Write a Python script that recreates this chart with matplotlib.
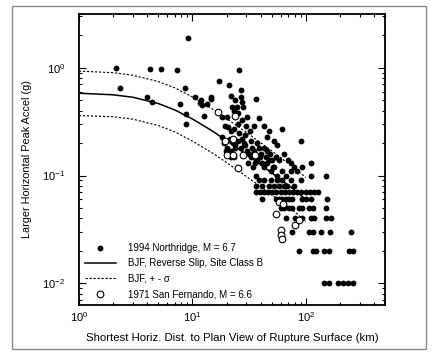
import matplotlib
matplotlib.use("Agg")
import matplotlib.pyplot as plt
from matplotlib.patches import Rectangle
from matplotlib.ticker import LogLocator, NullFormatter

plt.rcParams["font.family"] = ["Liberation Sans", "DejaVu Sans"]

# 1994 Northridge, larger horizontal PGA (g) vs distance (km)
nr_dist = [
    2.1, 2.3, 4.2, 5.3, 7.3, 9.2, 8.6, 4.0, 4.4, 7.7, 8.7, 8.7, 10.6, 11.6, 12.6,
    13.5, 14.6, 14.7, 12.2, 11.8,
    17.3, 21.0, 25.7, 26.6, 27.0, 27.5, 27.9, 24.0, 22.4, 23.2, 25.2, 20.3, 18.3,
    19.3, 20.7, 21.7, 23.2, 25.2, 27.5, 30.5, 30.0, 32.2, 36.1, 34.9, 38.6, 42.8,
    47.4, 45.8, 52.5, 56.1, 62.2, 90.3, 21.7, 24.8,
    18.3, 19.2, 20.3, 21.4, 21.7, 22.7, 24.0, 25.2, 26.6, 27.5, 29.4, 30.5, 31.5,
    32.6, 33.7, 34.9, 36.8, 38.6, 40.0, 42.8, 44.3, 45.8, 48.3, 50.7, 54.3, 58.1,
    64.3, 69.8, 73.7, 30.9, 34.4, 37.3, 41.4, 42.8, 45.8, 49.0, 52.5, 56.1, 62.2,
    66.5, 73.7, 78.9, 84.4, 93.5, 111, 150, 112, 36.6, 19.6, 20.3, 21.7, 23.2,
    28.5, 33.0, 39.5, 35.5, 47.0, 51.5, 29.0, 26.0, 23.8,
    38.6, 42.8, 49.0, 56.1, 62.2, 73.7, 90.3,
    36.6, 41.4, 47.4, 52.5, 58.1, 64.3, 68.9, 78.9,
    36.1, 39.2, 42.8, 46.4, 50.7, 55.0, 60.1, 65.2, 71.3, 77.3, 84.4, 91.6, 100,
    108, 118, 127,
    41.4, 54.3, 58.1, 62.2, 66.5, 71.3, 76.2, 93.5, 100, 111, 153,
    60, 64, 71, 76, 87, 93.5, 107, 115, 150,
    66.5, 80, 92, 111, 118, 150, 166,
    76, 107, 115, 136, 164, 250,
    87, 115, 123, 145, 161, 242, 259,
    145, 161, 191, 211, 234, 259,
]
nr_pga = [
    1.0, 0.65, 0.97, 0.97, 0.95, 1.9, 0.65, 0.54, 0.48, 0.46, 0.37, 0.30, 0.54, 0.47, 0.36,
    0.46, 0.51, 0.54, 0.45, 0.50,
    0.75, 0.69, 0.95, 0.62, 0.54, 0.48, 0.43, 0.50, 0.43, 0.40, 0.38, 0.35, 0.35,
    0.29, 0.28, 0.26, 0.27, 0.30, 0.33, 0.35, 0.29, 0.26, 0.51, 0.29, 0.34, 0.29,
    0.26, 0.23, 0.21, 0.19, 0.27, 0.21, 0.55, 0.43,
    0.23, 0.20, 0.18, 0.22, 0.17, 0.20, 0.18, 0.21, 0.18, 0.22, 0.19, 0.17, 0.16,
    0.21, 0.18, 0.17, 0.20, 0.18, 0.16, 0.18, 0.15, 0.17, 0.16, 0.14, 0.15, 0.14,
    0.16, 0.14, 0.13, 0.13, 0.12, 0.14, 0.13, 0.12, 0.13, 0.11, 0.12, 0.10, 0.11,
    0.10, 0.11, 0.12, 0.11, 0.12, 0.13, 0.10, 0.10, 0.10, 0.17, 0.16, 0.15, 0.15,
    0.20, 0.15, 0.15, 0.13, 0.14, 0.12, 0.24, 0.25, 0.19,
    0.09, 0.09, 0.09, 0.09, 0.09, 0.09, 0.09,
    0.08, 0.08, 0.08, 0.08, 0.08, 0.08, 0.08, 0.08,
    0.07, 0.07, 0.07, 0.07, 0.07, 0.07, 0.07, 0.07, 0.07, 0.07, 0.07, 0.07, 0.07,
    0.07, 0.07, 0.07,
    0.06, 0.06, 0.06, 0.06, 0.06, 0.06, 0.06, 0.06, 0.06, 0.06, 0.06,
    0.05, 0.05, 0.05, 0.05, 0.05, 0.05, 0.05, 0.05, 0.05,
    0.04, 0.04, 0.04, 0.04, 0.04, 0.04, 0.04,
    0.03, 0.03, 0.03, 0.03, 0.03, 0.03,
    0.02, 0.02, 0.02, 0.02, 0.02, 0.02, 0.02,
    0.01, 0.01, 0.01, 0.01, 0.01, 0.01,
]

# 1971 San Fernando
sf_dist = [16.7, 24.0, 19.3, 23.0, 20.0, 23.0, 28.0, 36.0, 25.5, 55.0, 60.0, 61.0,
           62.0, 81.0, 88.0, 58.0, 63.0]
sf_pga = [0.39, 0.36, 0.21, 0.22, 0.155, 0.155, 0.155, 0.155, 0.117, 0.044, 0.031,
          0.028, 0.026, 0.035, 0.039, 0.057, 0.055]

# BJF curve (median and +/- sigma)
bjf_dist = [1, 2, 3, 5, 7, 10, 15, 20, 30, 40, 50, 60, 80, 100]
bjf_med = [0.58, 0.561, 0.532, 0.466, 0.406, 0.335, 0.259, 0.211, 0.157, 0.126,
           0.106, 0.092, 0.073, 0.060]
bjf_hi = [0.93, 0.90, 0.85, 0.745, 0.65, 0.536, 0.414, 0.338, 0.251, 0.202,
          0.170, 0.147, 0.117, 0.096]
bjf_lo = [0.36, 0.351, 0.333, 0.291, 0.254, 0.209, 0.162, 0.132, 0.098, 0.079,
          0.066, 0.058, 0.046, 0.0375]

fig = plt.figure(figsize=(4.32, 3.56), dpi=100)
fig.patches.append(Rectangle((12 / 432, 7 / 356), 414 / 432, 343 / 356,
                             transform=fig.transFigure, fill=False,
                             edgecolor="#8a8a8a", linewidth=1.0))
ax = fig.add_axes([79 / 432, 1 - 305 / 356, 306 / 432, 291 / 356])

ax.plot(nr_dist, nr_pga, "o", color="black", markersize=4.2, markeredgewidth=0,
        linestyle="none", label="1994 Northridge, M = 6.7")
ax.plot(bjf_dist, bjf_med, "-", color="black", linewidth=1.1,
        label="BJF, Reverse Slip, Site Class B")
ax.plot(bjf_dist, bjf_hi, color="black", linewidth=0.8, linestyle=(0, (2, 1.6)),
        label="BJF, + - σ")
ax.plot(bjf_dist, bjf_lo, color="black", linewidth=0.8, linestyle=(0, (2, 1.6)))
ax.plot(sf_dist, sf_pga, "o", markerfacecolor="white", markeredgecolor="black",
        markersize=4.8, markeredgewidth=0.8, linestyle="none",
        label="1971 San Fernando, M = 6.6")

ax.set_xscale("log")
ax.set_yscale("log")
ax.set_xlim(1, 500)
ax.set_ylim(0.0063, 3.15)
for axis in (ax.xaxis, ax.yaxis):
    axis.set_major_locator(LogLocator(base=10))
    axis.set_minor_locator(LogLocator(base=10, subs=range(2, 10)))
    axis.set_minor_formatter(NullFormatter())
ax.tick_params(which="both", direction="in", top=True, right=True, labelsize=8,
               width=0.8, color="black")
ax.tick_params(which="major", length=5)
ax.tick_params(which="minor", length=2.5)
ax.tick_params(axis="y", which="major", pad=10)
ax.tick_params(axis="x", which="major", pad=4)
for s in ax.spines.values():
    s.set_linewidth(1.3)

ax.set_xlabel("Shortest Horiz. Dist. to Plan View of Rupture Surface (km)",
              fontsize=8.2, labelpad=6)
ax.set_ylabel("Larger Horizontal Peak Accel (g)", fontsize=7.8, labelpad=7)

ax.legend(loc="lower left", frameon=False, fontsize=7.0, numpoints=1,
          handlelength=3.2, handletextpad=1.2, labelspacing=0.55,
          borderaxespad=0.3, borderpad=0.3)

fig.savefig("out.png", dpi=100)
